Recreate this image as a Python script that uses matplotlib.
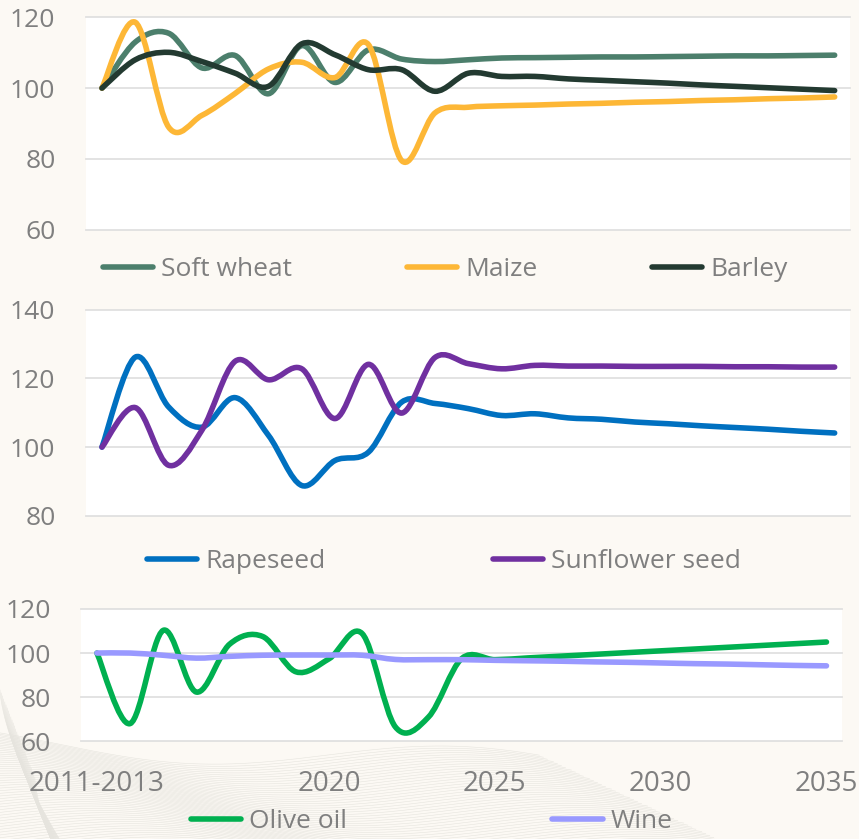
import numpy as np
import matplotlib.pyplot as plt
from matplotlib.path import Path
from matplotlib.patches import PathPatch
from matplotlib.lines import Line2D

# categories (x axis)
periods = ['2011-2013', '2014', '2015', '2016', '2017', '2018', '2019', '2020',
           '2021', '2022', '2023', '2024', '2025', '2026', '2027', '2028',
           '2029', '2030', '2031', '2032', '2033', '2034', '2035']
tick_labels = ['2011-2013', '2020', '2025', '2030', '2035']

# index values (2011-2013 = 100)
soft_wheat = [100, 113, 115.5, 105.7, 109.2, 98.4, 112, 101.6, 110.8, 108.2, 107.5, 108,
              108.5, 108.6, 108.7, 108.8, 108.8, 108.9, 109.0, 109.1, 109.1, 109.2, 109.3]
maize = [100, 118.6, 89, 92.3, 98.5, 105.4, 107.3, 103, 112.3, 79.5, 93, 94.6,
         95.0, 95.2, 95.5, 95.7, 96.0, 96.2, 96.5, 96.7, 97.0, 97.2, 97.5]
barley = [100, 108, 110.1, 107.5, 104.2, 100.5, 112.5, 109.4, 105.2, 105.2, 99.1, 104.2,
          103.3, 103.3, 102.6, 102.2, 101.8, 101.4, 100.9, 100.5, 100.1, 99.7, 99.3]

rapeseed = [100, 126.2, 111.7, 105.8, 114.4, 103.4, 88.8, 96.1, 98.5, 113.1, 112.7, 111.2,
            109.2, 109.7, 108.5, 108.1, 107.3, 106.8, 106.2, 105.7, 105.2, 104.6, 104.1]
sunflower = [100, 111.5, 94.7, 104.9, 125, 119.6, 122.8, 108.3, 124.1, 109.9, 126.1, 124.3,
             122.8, 123.8, 123.6, 123.6, 123.5, 123.5, 123.5, 123.4, 123.4, 123.3, 123.3]

olive_oil = [100, 68, 110.3, 82.3, 104, 107.5, 91.5, 97.4, 108.8, 66.5, 71, 97.5,
             97, 97.8, 98.6, 99.4, 100.2, 101, 101.8, 102.6, 103.4, 104.2, 105]
wine = [100, 100, 99, 97.7, 98.5, 99, 99.1, 99.1, 99, 97.1, 97, 97,
        96.7, 96.5, 96.3, 96, 95.8, 95.5, 95.2, 95, 94.7, 94.4, 94.2]

bg = '#FCF9F4'
grey = '#7F7F7F'
plt.rcParams['font.family'] = ['Open Sans', 'DejaVu Sans']


def smooth_path(x, y):
    # excel-like smoothed line: cubic bezier through every point
    px = np.concatenate([[x[0]], x, [x[-1]]])
    py = np.concatenate([[y[0]], y, [y[-1]]])
    verts = [(x[0], y[0])]
    codes = [Path.MOVETO]
    for i in range(len(x) - 1):
        c1 = (px[i + 1] + (px[i + 2] - px[i]) / 6, py[i + 1] + (py[i + 2] - py[i]) / 6)
        c2 = (px[i + 2] - (px[i + 3] - px[i + 1]) / 6, py[i + 2] - (py[i + 3] - py[i + 1]) / 6)
        verts += [c1, c2, (x[i + 1], y[i + 1])]
        codes += [Path.CURVE4] * 3
    return Path(verts, codes)


fig = plt.figure(figsize=(8.59, 8.39), dpi=100)
fig.patch.set_facecolor(bg)

# faint wave decoration in the lower left corner
deco = fig.add_axes([0, 0, 1, 1], zorder=-5)
deco.set_xlim(0, 859)
deco.set_ylim(839, 0)
deco.axis('off')
xs = np.linspace(0, 800, 400)
for k in range(55):
    yk = 742 + k * 2.0 + 14 * np.sin((xs - 60 - k * 5) / 85.0) + 0.04 * xs
    xe = 540 + k * 4.5
    m = xs < xe
    deco.plot(xs[m], yk[m], color='#E6E4DE', lw=0.4)
for k in range(30):
    t = np.linspace(0, 1, 100)
    deco.plot(60 * t ** 1.5 + k * 1.2, 690 + k * 3 + 150 * t, color='#E6E4DE', lw=0.4)

x = np.arange(len(periods))

panels = [
    ([0.1001, 0.7262, 0.8894, 0.2532], (60, 120), [60, 80, 100, 120],
     [('Soft wheat', soft_wheat, '#4C7F6C'), ('Maize', maize, '#FDB736'), ('Barley', barley, '#233A31')],
     (445.4, 269.5), 4.35),
    ([0.1001, 0.3853, 0.8894, 0.2455], (80, 140), [80, 100, 120, 140],
     [('Rapeseed', rapeseed, '#0070C0'), ('Sunflower seed', sunflower, '#7030A0')],
     (444, 562), 6.36),
    ([0.0943, 0.1165, 0.8856, 0.1577], (60, 120), [60, 80, 100, 120],
     [('Olive oil', olive_oil, '#00B050'), ('Wine', wine, '#9999FF')],
     (431.5, 822), 7.8),
]

for n, (rect, ylim, yticks, series, leg_pos, colsp) in enumerate(panels):
    ax = fig.add_axes(rect)
    ax.set_facecolor('white')
    for s in ax.spines.values():
        s.set_visible(False)
    ax.set_xlim(-0.48, 22.46)
    ax.set_ylim(*ylim)
    ax.set_yticks(yticks)
    ax.tick_params(axis='y', length=0, pad=22, labelsize=19, labelcolor=grey)
    ax.grid(axis='y', color='#E0E0E0', lw=1.3)
    for gl in ax.get_ygridlines():
        gl.set_clip_on(False)
    ax.set_axisbelow(True)
    if n == 2:
        ax.set_xticks([0, 7, 12, 17, 22])
        ax.set_xticklabels(tick_labels)
        ax.tick_params(axis='x', length=0, pad=21, labelsize=20, labelcolor=grey)
    else:
        ax.set_xticks([])

    handles = []
    for label, vals, color in series:
        ax.add_patch(PathPatch(smooth_path(x, np.array(vals, float)), fill=False,
                               edgecolor=color, lw=4, capstyle='round', joinstyle='round'))
        handles.append(Line2D([], [], color=color, lw=4, solid_capstyle='round', label=label))

    fig.legend(handles=handles, loc='center', ncol=len(handles), frameon=False,
               bbox_to_anchor=(leg_pos[0] / 859, 1 - leg_pos[1] / 839),
               fontsize=19, labelcolor=grey, handlelength=1.9, handletextpad=0.3,
               columnspacing=colsp)

fig.savefig('out.png', dpi=100, facecolor=bg)
